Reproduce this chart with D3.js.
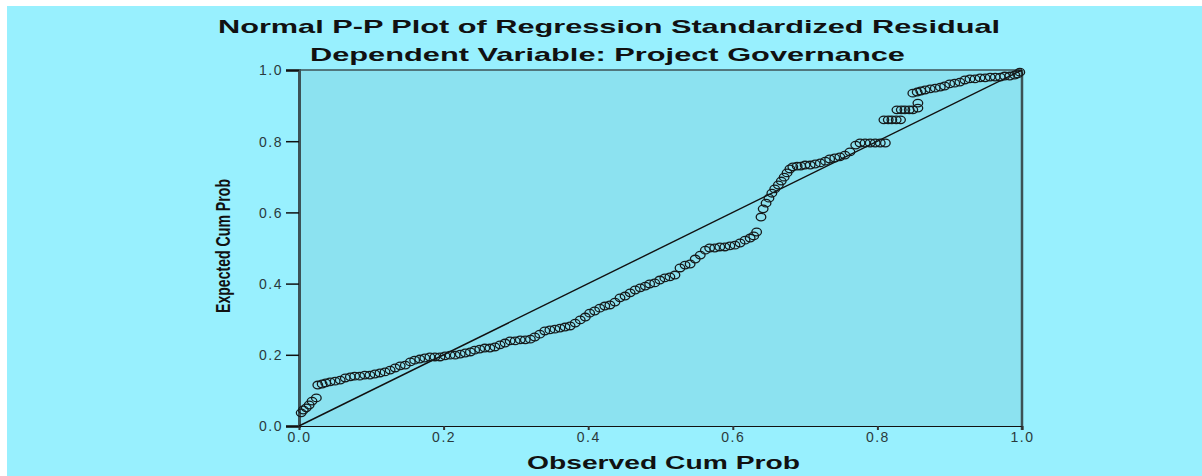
<!DOCTYPE html>
<meta charset="utf-8">
<style>
    body { margin: 0; background: #fff; }
    svg { display: block; }
    .tick text { font-family: "Liberation Sans", Arial, sans-serif; font-size: 14px; fill: #2a3a3c; letter-spacing: 1.5px; }
    .ttl { font-family: "Liberation Sans", Arial, sans-serif; font-weight: bold; fill: #111; }
</style>
<svg id="mainSVG" width="1202" height="476"></svg>
<script src="https://d3js.org/d3.v7.min.js"></script>
<script>
    // observed cum prob (x) and expected cum prob (y)
    var observed = [
        0.003, 0.006, 0.010, 0.014, 0.018, 0.024, 0.026, 0.032, 0.037, 0.043,
        0.050, 0.057, 0.064, 0.071, 0.077, 0.084, 0.091, 0.098, 0.105, 0.112,
        0.119, 0.126, 0.133, 0.140, 0.147, 0.154, 0.160, 0.167, 0.174, 0.181,
        0.188, 0.195, 0.202, 0.209, 0.216, 0.223, 0.230, 0.237, 0.243, 0.250,
        0.257, 0.264, 0.271, 0.278, 0.285, 0.292, 0.299, 0.306, 0.313, 0.320,
        0.326, 0.333, 0.340, 0.347, 0.354, 0.361, 0.368, 0.375, 0.382, 0.389,
        0.396, 0.402, 0.409, 0.416, 0.423, 0.430, 0.437, 0.444, 0.451, 0.458,
        0.465, 0.472, 0.479, 0.485, 0.492, 0.499, 0.506, 0.513, 0.520, 0.527,
        0.534, 0.541, 0.548, 0.555, 0.562, 0.568, 0.575, 0.582, 0.589, 0.596,
        0.603, 0.610, 0.617, 0.624, 0.629, 0.633, 0.639, 0.642, 0.646, 0.650,
        0.654, 0.658, 0.663, 0.667, 0.671, 0.675, 0.679, 0.683, 0.689, 0.694,
        0.700, 0.707, 0.714, 0.721, 0.728, 0.734, 0.741, 0.748, 0.755, 0.762,
        0.770, 0.776, 0.783, 0.790, 0.797, 0.804, 0.811,
        0.809, 0.815, 0.820, 0.826, 0.832,
        0.827, 0.833, 0.838, 0.844, 0.849, 0.856, 0.856,
        0.849, 0.855, 0.860, 0.866, 0.873, 0.880, 0.887, 0.893, 0.900, 0.907,
        0.914, 0.921, 0.928, 0.935, 0.942, 0.949, 0.956, 0.963, 0.970, 0.976,
        0.983, 0.990, 0.994, 0.997
    ];
    var expected = [
        0.037, 0.045, 0.051, 0.059, 0.070, 0.079, 0.115, 0.118, 0.121, 0.124,
        0.126, 0.129, 0.135, 0.138, 0.140, 0.140, 0.143, 0.143, 0.146, 0.149,
        0.152, 0.157, 0.163, 0.169, 0.171, 0.180, 0.185, 0.188, 0.191, 0.194,
        0.194, 0.194, 0.197, 0.199, 0.199, 0.202, 0.205, 0.208, 0.213, 0.216,
        0.219, 0.219, 0.222, 0.228, 0.233, 0.239, 0.239, 0.242, 0.242, 0.244,
        0.250, 0.258, 0.267, 0.270, 0.272, 0.275, 0.278, 0.281, 0.289, 0.298,
        0.306, 0.317, 0.323, 0.331, 0.337, 0.340, 0.348, 0.360, 0.365, 0.374,
        0.382, 0.388, 0.393, 0.399, 0.402, 0.410, 0.416, 0.419, 0.424, 0.444,
        0.452, 0.455, 0.469, 0.480, 0.494, 0.500, 0.500, 0.503, 0.503, 0.506,
        0.508, 0.514, 0.522, 0.528, 0.534, 0.545, 0.587, 0.610, 0.626, 0.640,
        0.654, 0.666, 0.677, 0.688, 0.699, 0.711, 0.722, 0.728, 0.730, 0.730,
        0.733, 0.733, 0.736, 0.739, 0.744, 0.750, 0.753, 0.756, 0.761, 0.770,
        0.789, 0.795, 0.795, 0.795, 0.795, 0.795, 0.795,
        0.860, 0.860, 0.860, 0.860, 0.860,
        0.888, 0.888, 0.888, 0.888, 0.888, 0.893, 0.907,
        0.935, 0.938, 0.941, 0.944, 0.947, 0.949, 0.952, 0.955, 0.961, 0.963,
        0.966, 0.972, 0.975, 0.975, 0.978, 0.978, 0.980, 0.980, 0.980, 0.983,
        0.983, 0.986, 0.989, 0.994
    ];
    var tickValues = [0.0, 0.2, 0.4, 0.6, 0.8, 1.0];

    var svg = d3.select("svg");

    var x = d3.scaleLinear().domain([0, 1]).range([299, 1022]);
    var y = d3.scaleLinear().domain([0, 1]).range([426, 70]);

    // page background (white margin left/top like the screenshot)
    svg.append("rect").attr("x", 7).attr("y", 6).attr("width", 1195).attr("height", 470).attr("fill", "#98f0fe");

    // plot area
    svg.append("rect")
        .attr("x", x(0)).attr("y", y(1))
        .attr("width", x(1) - x(0)).attr("height", y(0) - y(1))
        .attr("fill", "#8ce2f0");

    // frame: top and right
    svg.append("line").attr("x1", x(0)).attr("x2", x(1)).attr("y1", y(1)).attr("y2", y(1))
        .attr("stroke", "#3c5256").attr("stroke-width", 1.5);
    svg.append("line").attr("x1", x(1)).attr("x2", x(1)).attr("y1", y(1)).attr("y2", y(0) + 4)
        .attr("stroke", "#3c5256").attr("stroke-width", 2.5);

    // axes
    var yAxis = svg.append("g")
        .attr("transform", "translate(" + x(0) + ",0)")
        .call(d3.axisLeft(y).tickValues(tickValues).tickFormat(d3.format(".1f")).tickSize(13).tickPadding(3));
    yAxis.select(".domain").attr("stroke", "#3c5256").attr("stroke-width", 3);
    yAxis.selectAll(".tick line").attr("stroke", "#111").attr("stroke-width", 1.5);
    yAxis.selectAll(".tick text").attr("dy", "0.35em");

    var xAxis = svg.append("g")
        .attr("transform", "translate(0," + y(0) + ")")
        .call(d3.axisBottom(x).tickValues(tickValues).tickFormat(d3.format(".1f")).tickSize(4).tickPadding(2));
    xAxis.select(".domain").attr("stroke", "#111").attr("stroke-width", 1.2);
    xAxis.selectAll(".tick line").attr("stroke", "#333").attr("stroke-width", 2);

    // reference diagonal
    svg.append("line")
        .attr("x1", x(0)).attr("y1", y(0)).attr("x2", x(1)).attr("y2", y(1))
        .attr("stroke", "#111").attr("stroke-width", 1.4);

    // points
    var pts = d3.range(observed.length).map(function (i) {
        return { o: observed[i], e: expected[i] };
    });
    svg.append("g")
        .selectAll("ellipse")
        .data(pts)
        .enter().append("ellipse")
        .attr("cx", function (d) { return x(d.o); })
        .attr("cy", function (d) { return y(d.e); })
        .attr("rx", 4.8)
        .attr("ry", 3.8)
        .attr("fill", "none")
        .attr("stroke", "#151a1b")
        .attr("stroke-width", 1.3);

    // titles
    svg.append("text").attr("class", "ttl")
        .attr("x", 218).attr("y", 33)
        .attr("textLength", 782).attr("lengthAdjust", "spacingAndGlyphs")
        .style("font-size", "19px")
        .text("Normal P-P Plot of Regression Standardized Residual");
    svg.append("text").attr("class", "ttl")
        .attr("x", 310).attr("y", 61)
        .attr("textLength", 595).attr("lengthAdjust", "spacingAndGlyphs")
        .style("font-size", "19px")
        .text("Dependent Variable: Project Governance");

    svg.append("text").attr("class", "ttl")
        .attr("x", 527).attr("y", 469)
        .attr("textLength", 273).attr("lengthAdjust", "spacingAndGlyphs")
        .style("font-size", "18px")
        .text("Observed Cum Prob");

    svg.append("text").attr("class", "ttl")
        .attr("transform", "translate(230,313) rotate(-90)")
        .attr("textLength", 134).attr("lengthAdjust", "spacingAndGlyphs")
        .style("font-size", "20px")
        .text("Expected Cum Prob");
</script>
